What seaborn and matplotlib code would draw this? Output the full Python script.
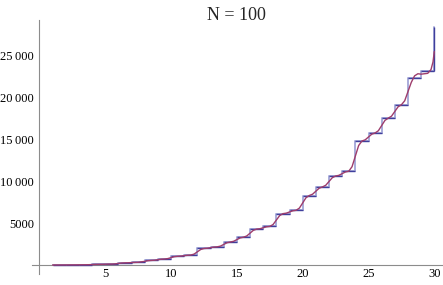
import numpy as np
import pandas as pd
import matplotlib
matplotlib.use("Agg")
import matplotlib.pyplot as plt
from matplotlib.ticker import FixedLocator, MultipleLocator, FuncFormatter
import seaborn as sns

# ---- data ----
step_x = list(range(1, 31))
step_y = [1, 10, 26, 75, 111, 255, 319, 544, 713, 1037,
          1181, 1965, 2161, 2737, 3313, 4274, 4598, 6119, 6519, 8283,
          9307, 10603, 11179, 14779, 15740, 17504, 19104, 22240, 23140, 28324]

curve_x = [1, 1.25, 1.5, 1.75, 2, 2.25, 2.5, 2.75, 3, 3.25, 3.5, 3.75,
           4, 4.25, 4.5, 4.75, 5, 5.25, 5.5, 5.75, 6, 6.25, 6.5, 6.75,
           7, 7.25, 7.5, 7.75, 8, 8.25, 8.5, 8.75, 9, 9.25, 9.5, 9.75,
           10, 10.25, 10.5, 10.75, 11, 11.25, 11.5, 11.75, 12, 12.25, 12.5, 12.75,
           13, 13.25, 13.5, 13.75, 14, 14.25, 14.5, 14.75, 15, 15.25, 15.5, 15.75,
           16, 16.25, 16.5, 16.75, 17, 17.25, 17.5, 17.75, 18, 18.25, 18.5, 18.75,
           19, 19.25, 19.5, 19.75, 20, 20.25, 20.5, 20.75, 21, 21.25, 21.5, 21.75,
           22, 22.25, 22.5, 22.75, 23, 23.25, 23.5, 23.75, 24, 24.25, 24.5, 24.75,
           25, 25.25, 25.5, 25.75, 26, 26.25, 26.5, 26.75, 27, 27.25, 27.5, 27.75,
           28, 28.25, 28.5, 28.75, 29, 29.25, 29.5, 29.75, 29.9, 30]
curve_y = [0, 1, 1, 2, 5, 9, 10, 12, 18, 24, 26, 33,
           50, 68, 75, 80, 93, 106, 111, 133, 183, 233, 255, 265,
           287, 309, 319, 378, 431, 510, 544, 569, 628, 688, 713, 762,
           875, 988, 1037, 1059, 1109, 1159, 1181, 1299, 1573, 1847, 1965, 1994,
           2063, 2132, 2161, 2247, 2449, 2651, 2737, 2823, 3025, 3227, 3313, 3457,
           3793, 4130, 4274, 4323, 4436, 4549, 4598, 4826, 5358, 5891, 6119, 6179,
           6319, 6459, 6519, 6784, 7401, 8018, 8283, 8437, 8795, 9153, 9307, 9501,
           9955, 10409, 10603, 10689, 10891, 11093, 11179, 11719, 12979, 14239, 14779, 14923,
           15260, 15596, 15740, 16005, 16622, 17239, 17504, 17744, 18304, 18864, 19104, 19574,
           20672, 21770, 22550, 22800, 22750, 22800, 22850, 23300, 24200, 25450]

x_ticks = [5, 10, 15, 20, 25, 30]
y_ticks = [5000, 10000, 15000, 20000, 25000]
title = "N = 100"

# ---- styling ----
sns.set_style("white")
plt.rcParams['font.family'] = ['Liberation Serif', 'DejaVu Serif']

BLUE = "#3f3f9c"
BLUE_LIGHT = "#a9acdb"
RED = "#9e3d6c"
AXIS = "#8c8c8c"

fig = plt.figure(figsize=(4.43, 2.85), dpi=100)
ax = fig.add_axes([0.0713, 0.0379, 0.9269, 0.8902])

steps = pd.DataFrame({"x": step_x, "y": step_y})
curve = pd.DataFrame({"x": curve_x, "y": curve_y})

# vertical jumps (light) drawn via step line, horizontals dark on top
sns.lineplot(data=steps, x="x", y="y", drawstyle="steps-post", color=BLUE_LIGHT,
             lw=1.4, ax=ax, zorder=2)
ax.hlines(step_y[:-1], step_x[:-1], step_x[1:], color=BLUE, lw=1.0, zorder=3)
ax.vlines([step_x[-1]], [step_y[-2]], [step_y[-1]], color=BLUE, lw=1.0, zorder=3)
sns.lineplot(data=curve, x="x", y="y", color=RED, lw=1.0, ax=ax, zorder=4)

ax.set_xlim(-0.6, 30.6)
ax.set_ylim(-1100, 29150)
ax.set_xlabel("")
ax.set_ylabel("")

for s in ("top", "right"):
    ax.spines[s].set_visible(False)
ax.spines["left"].set_position(("data", 0))
ax.spines["bottom"].set_position(("data", 0))
for s in ("left", "bottom"):
    ax.spines[s].set_color(AXIS)
    ax.spines[s].set_linewidth(0.8)

ax.xaxis.set_major_locator(FixedLocator(x_ticks))
ax.yaxis.set_major_locator(FixedLocator(y_ticks))
ax.xaxis.set_minor_locator(FixedLocator(list(range(1, 31))))
ax.yaxis.set_minor_locator(FixedLocator(list(range(-1000, 29001, 1000))))
ax.yaxis.set_major_formatter(FuncFormatter(
    lambda v, p: f"{int(v):,}".replace(",", "\u2009") if v >= 10000 else f"{int(v)}"))

ax.tick_params(which="both", direction="in", color=AXIS, width=0.8, labelsize=9,
               labelcolor="black")
ax.tick_params(which="major", length=3.3)
ax.tick_params(which="minor", length=1.8)
ax.tick_params(axis="y", which="major", pad=3.9)
ax.tick_params(axis="x", which="major", pad=2.0)

ax.set_title(title, fontsize=13, pad=0.5)

fig.savefig("out.png", dpi=100)
